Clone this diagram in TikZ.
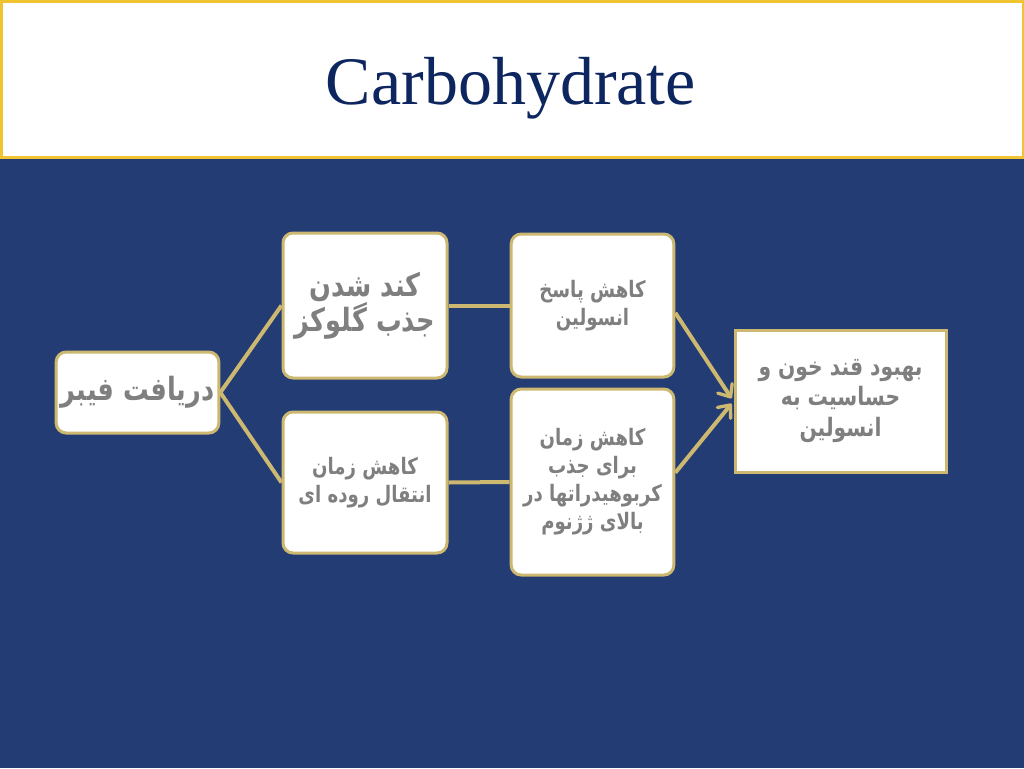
\documentclass[tikz,border=0pt]{standalone}
\usepackage{fontspec}
\setmainfont{Liberation Serif}
\newfontfamily\farsifont[Script=Arabic, FakeStretch=0.8]{DejaVu Sans}
\TeXXeTstate=1
\usetikzlibrary{arrows.meta}

\definecolor{slideblue}{RGB}{36,60,116}
\definecolor{titlegold}{RGB}{240,196,48}
\definecolor{titlenavy}{RGB}{14,38,96}
\definecolor{boxgold}{RGB}{204,184,112}
\definecolor{textgray}{RGB}{127,127,127}

\tikzset{
    box/.style={draw=boxgold, line width=2.25pt, fill=white, rounded corners=7.5pt,
        align=center, text=textgray, inner sep=0pt},
    plainbox/.style={box, rounded corners=0pt},
    bigtext/.style={font=\farsifont\bfseries\fontsize{24}{26.5}\selectfont},
    smalltext/.style={font=\farsifont\bfseries\fontsize{17}{21}\selectfont},
    resulttext/.style={font=\farsifont\bfseries\fontsize{19}{23}\selectfont},
    link/.style={boxgold, line width=3pt},
    arrowlink/.style={link, -{Straight Barb[angle=80:10pt, line width=2.5pt, round]}},
}

\begin{document}
\begin{tikzpicture}[x=0.75pt, y=-0.75pt]
        \useasboundingbox (0, 0) rectangle (1024, 768);
        \fill[slideblue] (0, 0) rectangle (1024, 768);

        % Title
        \draw[titlegold, line width=2.25pt, fill=white] (1, 1) rectangle (1023, 157);
        \node[anchor=base, text=titlenavy, font=\fontsize{51}{60}\selectfont] (title) at (511, 104) {Carbohydrate};

        % Boxes
        \node[box, bigtext, minimum width=122pt, minimum height=60.75pt] (fiber) at (137.5, 392.5)
            {\beginR دریافت فیبر\endR};
        \node[box, bigtext, minimum width=123pt, minimum height=108.75pt] (slow) at (365, 305.5)
            {\beginR کند شدن\endR\\ \beginR جذب گلوکز\endR};
        \node[box, smalltext, minimum width=123pt, minimum height=105.75pt] (transit) at (365, 482.5)
            {\beginR کاهش زمان\endR\\ \beginR انتقال روده ای\endR};
        \node[box, smalltext, minimum width=122pt, minimum height=107.25pt] (insresp) at (592.5, 305.5)
            {\beginR کاهش پاسخ\endR\\ \beginR انسولین\endR};
        \node[box, smalltext, minimum width=122pt, minimum height=139.5pt] (absorb) at (592.5, 482)
            {\beginR کاهش زمان\endR\\ \beginR برای جذب\endR\\ \beginR کربوهیدراتها در\endR\\ \beginR بالای ژژنوم\endR};
        \node[plainbox, resulttext, minimum width=158.25pt, minimum height=106.5pt] (result) at (840.5, 401)
            {\beginR بهبود قند خون و\endR\\ \beginR حساسیت به\endR\\ \beginR انسولین\endR};

        % Links
        \draw[link] (fiber.east) -- (slow.west);
        \draw[link] (fiber.east) -- (transit.west);
        \draw[link] (slow.east) -- (insresp.west);
        \draw[link] (transit.east) -- (absorb.west);

        % Arrows
        \draw[arrowlink] ([yshift=-5.5pt]insresp.east) -- ([xshift=-1.5pt, yshift=2pt]result.west);
        \draw[arrowlink] ([yshift=7pt]absorb.east) -- ([xshift=-1.5pt, yshift=-2pt]result.west);
\end{tikzpicture}
\end{document}
